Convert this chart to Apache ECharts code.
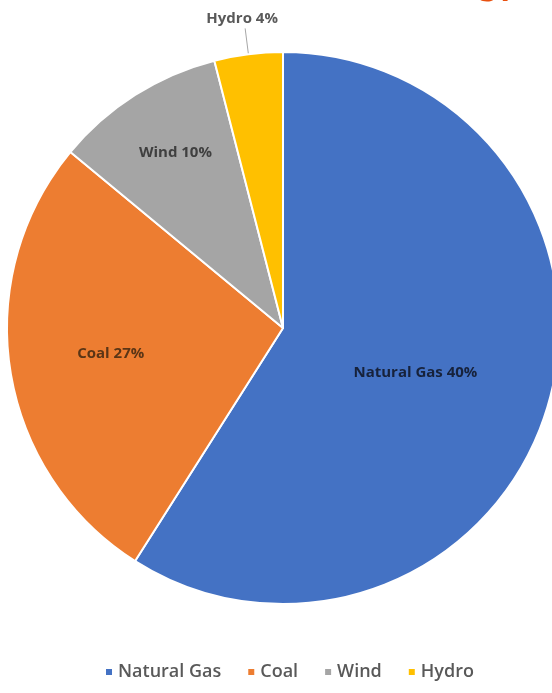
<!DOCTYPE html>
<html>
<head>
<meta charset="utf-8">
<script src="https://cdn.jsdelivr.net/npm/echarts@6/dist/echarts.min.js"></script>
<style>html,body{margin:0;padding:0;background:#fff;}#c{width:552px;height:693px;}</style>
</head>
<body>
<div id="c"></div>
<script>
var categories = ['Natural Gas', 'Coal', 'Wind', 'Hydro'];
var values = [59, 27, 10, 4];
var labelPercents = ['40%', '27%', '10%', '4%'];
var colors = ['#4472c4', '#ed7d31', '#a5a5a5', '#ffc000'];
var titleText = 'Energy';

var labelStyles = [
  {position: 'inside', color: '#17223b'},
  {position: 'inside', color: '#5a3516'},
  {position: 'inside', color: '#3f3f3f'},
  {position: 'outside', color: '#595959'}
];
// label nudges (Excel best-fit placement)
var labelNudges = [
  {dx: -3, dy: 5},
  {dx: -33, dy: 4},
  {dx: -32, dy: -56},
  {dx: 2, dy: -10, align: 'center'}
];

var data = categories.map(function (c, i) {
  return {
    name: c,
    value: values[i],
    itemStyle: {color: colors[i]},
    label: labelStyles[i]
  };
});

var chart = echarts.init(document.getElementById('c'));
chart.setOption({
  animation: false,
  title: {
    text: titleText,
    right: 28,
    top: -44,
    textStyle: {color: '#e8500f', fontSize: 40, fontWeight: 'bold', fontFamily: 'Lato'}
  },
  legend: {
    bottom: 7,
    left: 99,
    itemWidth: 8,
    itemHeight: 8,
    itemGap: 25,
    icon: 'rect',
    textStyle: {color: '#595959', fontSize: 18, fontWeight: 600, fontFamily: 'Open Sans'},
    data: categories
  },
  series: [{
    type: 'pie',
    center: [283, 328],
    radius: 276,
    startAngle: 90,
    clockwise: true,
    avoidLabelOverlap: false,
    itemStyle: {borderColor: '#fff', borderWidth: 2},
    label: {
      show: true,
      fontFamily: 'Open Sans',
      fontWeight: 'bold',
      fontSize: 15,
      formatter: function (p) { return p.name + ' ' + labelPercents[p.dataIndex]; }
    },
    labelLine: {show: true, length: 26, length2: 0, lineStyle: {color: '#a6a6a6', width: 1}},
    labelLayout: function (p) { return labelNudges[p.dataIndex]; },
    data: data
  }]
});
</script>
</body>
</html>
